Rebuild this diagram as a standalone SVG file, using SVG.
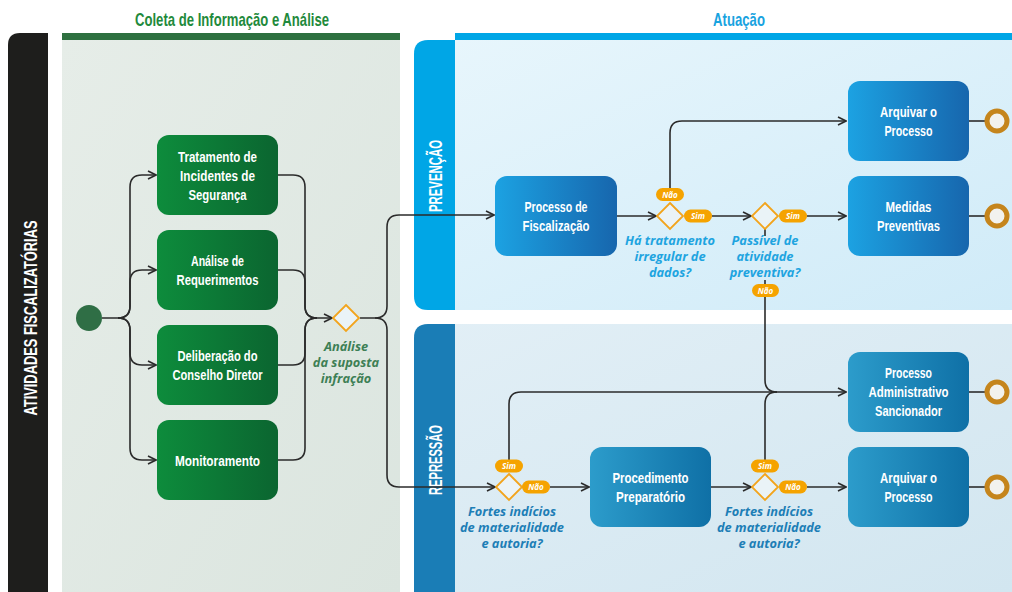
<svg xmlns="http://www.w3.org/2000/svg" width="1012" height="592" viewBox="0 0 1012 592">
<defs>
<linearGradient id="gPanel" x1="0" y1="0" x2="1" y2="1"><stop offset="0" stop-color="#e6ede8"/><stop offset="1" stop-color="#dbe5df"/></linearGradient>
<linearGradient id="bPrev" x1="0" y1="0" x2="1" y2="1"><stop offset="0" stop-color="#e8f6fc"/><stop offset="1" stop-color="#d0ebf8"/></linearGradient>
<linearGradient id="bRep" x1="0" y1="0" x2="1" y2="1"><stop offset="0" stop-color="#e2eff6"/><stop offset="1" stop-color="#d2e6f0"/></linearGradient>
<linearGradient id="gBox" x1="0" y1="0" x2="1" y2="0"><stop offset="0" stop-color="#0d8c3c"/><stop offset="1" stop-color="#0b6530"/></linearGradient>
<linearGradient id="pBox" x1="0" y1="0" x2="1" y2="0"><stop offset="0" stop-color="#1ca2e2"/><stop offset="1" stop-color="#1766ad"/></linearGradient>
<linearGradient id="rBox" x1="0" y1="0" x2="1" y2="0"><stop offset="0" stop-color="#2c9ccb"/><stop offset="1" stop-color="#0f70a6"/></linearGradient>
<marker id="arr" viewBox="0 0 10 10" refX="9" refY="5" markerWidth="10" markerHeight="10" markerUnits="userSpaceOnUse" orient="auto"><path d="M1,1 L9,5 L1,9" fill="none" stroke="#2b2b2b" stroke-width="1.6"/></marker>
<style>
.c{fill:none;stroke:#2b2b2b;stroke-width:1.6}
.bt{font-family:"Liberation Sans",Arial,sans-serif;font-weight:bold;font-size:15.5px;fill:#fff;text-anchor:middle}
.hd{font-family:"Liberation Sans",Arial,sans-serif;font-weight:bold;font-size:18.5px;text-anchor:middle}
.lane{font-family:"Liberation Sans",Arial,sans-serif;font-weight:bold;font-size:18px;fill:#fff;text-anchor:middle}
.q{font-family:"Open Sans","Liberation Sans",sans-serif;font-style:italic;font-weight:bold;font-size:12.8px;text-anchor:middle}
.dm{fill:#eaf3f7;stroke:#f2a41c;stroke-width:1.8}
.pill{fill:#f5a300}
.pt{font-family:"Open Sans","Liberation Sans",sans-serif;font-style:italic;font-weight:bold;font-size:8px;fill:#fff;text-anchor:middle}
.end{fill:#f2f2ee;stroke:#c5851c;stroke-width:5}
</style>
</defs>

<!-- headers -->
<text class="hd" x="232" y="26" fill="#1f8a3c" textLength="194" lengthAdjust="spacingAndGlyphs">Coleta de Informação e Análise</text>
<text class="hd" x="739" y="26" fill="#19a3df" textLength="52" lengthAdjust="spacingAndGlyphs">Atuação</text>

<!-- left black band -->
<path d="M8,45 Q8,33 20,33 H48 V592 H8 Z" fill="#1e1e1c"/>
<text class="lane" transform="translate(37,318) rotate(-90)" textLength="195" lengthAdjust="spacingAndGlyphs">ATIVIDADES  FISCALIZATÓRIAS</text>

<!-- green panel -->
<rect x="62" y="40" width="338" height="552" fill="url(#gPanel)"/>
<rect x="62" y="33" width="338" height="7" fill="#2e7040"/>

<!-- Prevencao lane -->
<rect x="455" y="33" width="557" height="7" fill="#00a6e6"/>
<path d="M428,40 H1012 V310 H428 Q414,310 414,296 V54 Q414,40 428,40 Z" fill="url(#bPrev)"/>
<path d="M428,40 H455 V310 H428 Q414,310 414,296 V54 Q414,40 428,40 Z" fill="#00a6e6"/>
<text class="lane" transform="translate(442,176) rotate(-90)" textLength="72" lengthAdjust="spacingAndGlyphs">PREVENÇÃO</text>

<!-- Repressao lane -->
<path d="M428,324 H1012 V592 H414 V338 Q414,324 428,324 Z" fill="url(#bRep)"/>
<path d="M428,324 H455 V592 H414 V338 Q414,324 428,324 Z" fill="#1a7db6"/>
<text class="lane" transform="translate(442,460) rotate(-90)" textLength="70" lengthAdjust="spacingAndGlyphs">REPRESSÃO</text>

<!-- connectors -->
<g id="connectors">
<path class="c" d="M102,318 H118 Q130,318 130,306 V187 Q130,175 142,175 H156" marker-end="url(#arr)"/>
<path class="c" d="M118,318 Q130,318 130,306 V282 Q130,270 142,270 H156" marker-end="url(#arr)"/>
<path class="c" d="M118,318 Q130,318 130,330 V353 Q130,365 142,365 H156" marker-end="url(#arr)"/>
<path class="c" d="M118,318 Q130,318 130,330 V448 Q130,460 142,460 H156" marker-end="url(#arr)"/>
<path class="c" d="M278,175 H293 Q305,175 305,187 V306 Q305,318 317,318 H332" marker-end="url(#arr)"/>
<path class="c" d="M278,270 H293 Q305,270 305,282 V306 Q305,318 317,318"/>
<path class="c" d="M278,365 H293 Q305,365 305,353 V330 Q305,318 317,318"/>
<path class="c" d="M278,460 H293 Q305,460 305,448 V330 Q305,318 317,318"/>
<path class="c" d="M360,318 H375 Q387,318 387,306 V227 Q387,215 399,215 H494" marker-end="url(#arr)"/>
<path class="c" d="M375,318 Q387,318 387,330 V475 Q387,487 399,487 H495" marker-end="url(#arr)"/>
<path class="c" d="M617,216 H656" marker-end="url(#arr)"/>
<path class="c" d="M670,190 V133 Q670,121 682,121 H846" marker-end="url(#arr)"/>
<path class="c" d="M712,216 H751" marker-end="url(#arr)"/>
<path class="c" d="M807,216 H846" marker-end="url(#arr)"/>
<path class="c" d="M765,229 V236"/>
<path class="c" d="M765,280 V380 Q765,392 777,392"/>
<path class="c" d="M509,460 V404 Q509,392 521,392 H846" marker-end="url(#arr)"/>
<path class="c" d="M550,487 H589" marker-end="url(#arr)"/>
<path class="c" d="M711,487 H751" marker-end="url(#arr)"/>
<path class="c" d="M765,460 V404 Q765,392 777,392"/>
<path class="c" d="M807,487 H846" marker-end="url(#arr)"/>
<path class="c" d="M969,121 H987"/>
<path class="c" d="M969,216 H987"/>
<path class="c" d="M969,392 H987"/>
<path class="c" d="M969,487 H987"/>
</g>

<!-- start -->
<g id="start"><circle cx="89" cy="318" r="13" fill="#2f6e45"/></g>

<!-- green boxes -->
<g id="n-tratamento"><rect x="157" y="135" width="121" height="80" rx="12" fill="url(#gBox)"/>
<text class="bt" x="217.5" y="162" textLength="79" lengthAdjust="spacingAndGlyphs">Tratamento de</text><text class="bt" x="217.5" y="181" textLength="75" lengthAdjust="spacingAndGlyphs">Incidentes de</text><text class="bt" x="217.5" y="200" textLength="58" lengthAdjust="spacingAndGlyphs">Segurança</text></g>
<g id="n-analise"><rect x="157" y="230" width="121" height="80" rx="12" fill="url(#gBox)"/>
<text class="bt" x="217.5" y="266" textLength="53" lengthAdjust="spacingAndGlyphs">Análise de</text><text class="bt" x="217.5" y="285" textLength="82" lengthAdjust="spacingAndGlyphs">Requerimentos</text></g>
<g id="n-deliberacao"><rect x="157" y="325" width="121" height="80" rx="12" fill="url(#gBox)"/>
<text class="bt" x="217.5" y="361" textLength="80" lengthAdjust="spacingAndGlyphs">Deliberação do</text><text class="bt" x="217.5" y="380" textLength="90" lengthAdjust="spacingAndGlyphs">Conselho Diretor</text></g>
<g id="n-monitoramento"><rect x="157" y="420" width="121" height="80" rx="12" fill="url(#gBox)"/>
<text class="bt" x="217.5" y="466" textLength="85" lengthAdjust="spacingAndGlyphs">Monitoramento</text></g>

<!-- gateway 1 -->
<g id="g-analise"><path class="dm" d="M346,305 L359,318 L346,331 L333,318 Z"/>
<text class="q" fill="#3d7f55" x="346" y="351">Análise</text><text class="q" fill="#3d7f55" x="346" y="367">da suposta</text><text class="q" fill="#3d7f55" x="346" y="383">infração</text></g>

<!-- Prevencao nodes -->
<g id="n-fiscalizacao"><rect x="495" y="176" width="122" height="80" rx="12" fill="url(#pBox)"/>
<text class="bt" x="556" y="212" textLength="63" lengthAdjust="spacingAndGlyphs">Processo de</text><text class="bt" x="556" y="231" textLength="67" lengthAdjust="spacingAndGlyphs">Fiscalização</text></g>

<g id="g-tratamento"><path class="dm" d="M670,203 L683,216 L670,229 L657,216 Z"/>
<rect class="pill" x="656" y="188" width="28" height="13" rx="6.5"/><text class="pt" x="670" y="197.5">Não</text>
<rect class="pill" x="684" y="209.5" width="28" height="13" rx="6.5"/><text class="pt" x="698" y="219">Sim</text>
<text class="q" fill="#1ea4e0" x="670" y="245">Há tratamento</text><text class="q" fill="#1ea4e0" x="670" y="261">irregular de</text><text class="q" fill="#1ea4e0" x="670" y="277">dados?</text></g>

<g id="g-passivel"><path class="dm" d="M765,203 L778,216 L765,229 L752,216 Z"/>
<rect class="pill" x="779" y="209.5" width="28" height="13" rx="6.5"/><text class="pt" x="793" y="219">Sim</text>
<text class="q" fill="#1ea4e0" x="765" y="245">Passível de</text><text class="q" fill="#1ea4e0" x="765" y="261">atividade</text><text class="q" fill="#1ea4e0" x="765" y="277">preventiva?</text>
<rect class="pill" x="752" y="284" width="27" height="13" rx="6.5"/><text class="pt" x="765.5" y="293.5">Não</text></g>

<g id="n-arquivar1"><rect x="848" y="81" width="121" height="80" rx="12" fill="url(#pBox)"/>
<text class="bt" x="908.5" y="117" textLength="57" lengthAdjust="spacingAndGlyphs">Arquivar o</text><text class="bt" x="908.5" y="136" textLength="48" lengthAdjust="spacingAndGlyphs">Processo</text></g>
<g id="n-medidas"><rect x="848" y="176" width="121" height="80" rx="12" fill="url(#pBox)"/>
<text class="bt" x="908.5" y="212" textLength="46" lengthAdjust="spacingAndGlyphs">Medidas</text><text class="bt" x="908.5" y="231" textLength="63" lengthAdjust="spacingAndGlyphs">Preventivas</text></g>

<!-- Repressao nodes -->
<g id="g-fortes1"><path class="dm" d="M509,474 L522,487 L509,500 L496,487 Z"/>
<rect class="pill" x="495" y="459.5" width="28" height="13" rx="6.5"/><text class="pt" x="509" y="469">Sim</text>
<rect class="pill" x="522" y="480.5" width="28" height="13" rx="6.5"/><text class="pt" x="536" y="490">Não</text>
<text class="q" fill="#1d7eb6" x="512" y="516">Fortes indícios</text><text class="q" fill="#1d7eb6" x="512" y="532">de materialidade</text><text class="q" fill="#1d7eb6" x="512" y="548">e autoria?</text></g>

<g id="n-procedimento"><rect x="590" y="447" width="121" height="80" rx="12" fill="url(#rBox)"/>
<text class="bt" x="650.5" y="483" textLength="76" lengthAdjust="spacingAndGlyphs">Procedimento</text><text class="bt" x="650.5" y="502" textLength="69" lengthAdjust="spacingAndGlyphs">Preparatório</text></g>

<g id="g-fortes2"><path class="dm" d="M765,474 L778,487 L765,500 L752,487 Z"/>
<rect class="pill" x="751" y="459.5" width="28" height="13" rx="6.5"/><text class="pt" x="765" y="469">Sim</text>
<rect class="pill" x="779" y="480.5" width="28" height="13" rx="6.5"/><text class="pt" x="793" y="490">Não</text>
<text class="q" fill="#1d7eb6" x="769" y="516">Fortes indícios</text><text class="q" fill="#1d7eb6" x="769" y="532">de materialidade</text><text class="q" fill="#1d7eb6" x="769" y="548">e autoria?</text></g>

<g id="n-pas"><rect x="848" y="352" width="121" height="80" rx="12" fill="url(#rBox)"/>
<text class="bt" x="908.5" y="378" textLength="47" lengthAdjust="spacingAndGlyphs">Processo</text><text class="bt" x="908.5" y="397" textLength="80" lengthAdjust="spacingAndGlyphs">Administrativo</text><text class="bt" x="908.5" y="416" textLength="67" lengthAdjust="spacingAndGlyphs">Sancionador</text></g>
<g id="n-arquivar2"><rect x="848" y="447" width="121" height="80" rx="12" fill="url(#rBox)"/>
<text class="bt" x="908.5" y="483" textLength="57" lengthAdjust="spacingAndGlyphs">Arquivar o</text><text class="bt" x="908.5" y="502" textLength="48" lengthAdjust="spacingAndGlyphs">Processo</text></g>

<!-- end events -->
<g id="end1"><circle class="end" cx="997" cy="121" r="10"/></g>
<g id="end2"><circle class="end" cx="997" cy="216" r="10"/></g>
<g id="end3"><circle class="end" cx="997" cy="392" r="10"/></g>
<g id="end4"><circle class="end" cx="997" cy="487" r="10"/></g>
</svg>
